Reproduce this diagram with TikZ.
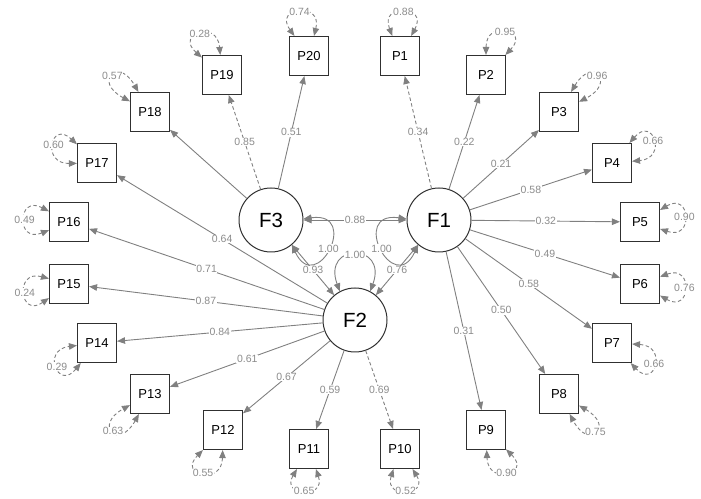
\documentclass[tikz,border=0pt]{standalone}
\usepackage{fontspec}
\setmainfont{Liberation Sans}
\usetikzlibrary{arrows.meta}
\definecolor{edgegray}{HTML}{808080}
\definecolor{lblgray}{HTML}{8C8C8C}
\definecolor{boxline}{HTML}{303030}
\tikzset{
 obs/.style={draw=boxline, line width=1.1pt, minimum width=39pt, minimum height=39pt, inner sep=0pt, font=\fontsize{13}{13}\selectfont},
 lat/.style={circle, draw=boxline, line width=1pt, minimum size=64pt, inner sep=0pt, font=\fontsize{20.5}{20.5}\selectfont},
 load/.style={draw=edgegray, line width=0.9pt, -{Triangle[length=8pt,width=6.5pt]}},
 cov/.style={draw=edgegray, line width=0.9pt, {Triangle[length=8pt,width=6.5pt]}-{Triangle[length=8pt,width=6.5pt]}},
 resid/.style={cov, dash pattern=on 3.5pt off 2.5pt},
 lbl/.style={fill=white, text=lblgray, inner sep=0.6pt, font=\fontsize{10.5}{10.5}\selectfont},
}
\newcommand\resloop[5]{%
  \pgfmathtruncatemacro\ra{mod(#2+#3+360,360)}%
  \pgfmathtruncatemacro\rb{mod(#2-#3+360,360)}%
  \draw[resid] (#1.\ra) .. controls +(\ra:#4) and +(\rb:#4) .. (#1.\rb) node[lbl,midway]{#5};%
}
\begin{document}
\begin{tikzpicture}[x=1pt,y=1pt]
\useasboundingbox (0,0) rectangle (701,498);
% latent factors
\node[lat] (F3) at (271,278) {F3};
\node[lat] (F1) at (439,278) {F1};
\node[lat] (F2) at (355,178) {F2};
% observed
\node[obs] (P1) at (400,442) {P1};
\node[obs] (P2) at (486,423) {P2};
\node[obs] (P3) at (559,386) {P3};
\node[obs] (P4) at (612,335) {P4};
\node[obs] (P5) at (640,276) {P5};
\node[obs] (P6) at (640,214) {P6};
\node[obs] (P7) at (612,155) {P7};
\node[obs] (P8) at (559,104) {P8};
\node[obs] (P9) at (486,68) {P9};
\node[obs] (P10) at (400,49) {P10};
\node[obs] (P11) at (309,49) {P11};
\node[obs] (P12) at (223,68) {P12};
\node[obs] (P13) at (150,104) {P13};
\node[obs] (P14) at (97,155) {P14};
\node[obs] (P15) at (69,214) {P15};
\node[obs] (P16) at (69,276) {P16};
\node[obs] (P17) at (97,335) {P17};
\node[obs] (P18) at (150,386) {P18};
\node[obs] (P19) at (222,423) {P19};
\node[obs] (P20) at (309,442) {P20};
% loadings F1
\draw[load,dash pattern=on 3.5pt off 2.5pt] (F1) -- (P1) node[lbl,midway]{0.34};
\draw[load] (F1) -- (P2) node[lbl,midway]{0.22};
\draw[load] (F1) -- (P3) node[lbl,midway]{0.21};
\draw[load] (F1) -- (P4) node[lbl,midway]{0.58};
\draw[load] (F1) -- (P5) node[lbl,midway]{0.32};
\draw[load] (F1) -- (P6) node[lbl,midway]{0.49};
\draw[load] (F1) -- (P7) node[lbl,midway]{0.58};
\draw[load] (F1) -- (P8) node[lbl,midway]{0.50};
\draw[load] (F1) -- (P9) node[lbl,midway]{0.31};
% loadings F2
\draw[load,dash pattern=on 3.5pt off 2.5pt] (F2) -- (P10) node[lbl,midway]{0.69};
\draw[load] (F2) -- (P11) node[lbl,midway]{0.59};
\draw[load] (F2) -- (P12) node[lbl,midway]{0.67};
\draw[load] (F2) -- (P13) node[lbl,midway]{0.61};
\draw[load] (F2) -- (P14) node[lbl,midway]{0.84};
\draw[load] (F2) -- (P15) node[lbl,midway]{0.87};
\draw[load] (F2) -- (P16) node[lbl,midway]{0.71};
\draw[load] (F2) -- (P17) node[lbl,midway]{0.64};
% loadings F3
\draw[load] (F3) -- (P18);
\draw[load,dash pattern=on 3.5pt off 2.5pt] (F3) -- (P19) node[lbl,midway]{0.85};
\draw[load] (F3) -- (P20) node[lbl,midway]{0.51};
% factor covariances and variances
\draw[cov] (F3) -- (F1) node[lbl,midway]{0.88};
\draw[cov] (F3) -- (F2) node[lbl,midway]{0.93};
\draw[cov] (F1) -- (F2) node[lbl,midway]{0.76};
\draw[cov] (F3.2) .. controls +(8:58) and +(295:58) .. (F3.310) node[lbl,midway]{1.00};
\draw[cov] (F1.178) .. controls +(172:58) and +(245:58) .. (F1.230) node[lbl,midway]{1.00};
\draw[cov] (F2.118) .. controls +(110:52) and +(70:52) .. (F2.62) node[lbl,midway]{1.00};
% residual variances
\resloop{P1}{86}{25}{36}{0.88}
\resloop{P2}{68}{22}{36}{0.95}
\resloop{P3}{43}{16}{42}{0.96}
\resloop{P4}{27}{22}{36}{0.66}
\resloop{P5}{6}{25}{36}{0.90}
\resloop{P6}{355}{25}{36}{0.76}
\resloop{P7}{335}{22}{36}{0.66}
\resloop{P8}{314}{16}{42}{0.75}
\resloop{P9}{294}{22}{36}{0.90}
\resloop{P10}{277}{25}{32}{0.52}
\resloop{P11}{264}{25}{32}{0.65}
\resloop{P12}{247}{22}{36}{0.55}
\resloop{P13}{225}{16}{42}{0.63}
\resloop{P14}{209}{22}{36}{0.29}
\resloop{P15}{190}{25}{36}{0.24}
\resloop{P16}{177}{25}{36}{0.49}
\resloop{P17}{159}{22}{36}{0.60}
\resloop{P18}{136}{16}{42}{0.57}
\resloop{P19}{117}{22}{36}{0.28}
\resloop{P20}{101}{25}{36}{0.74}
\end{tikzpicture}
\end{document}
